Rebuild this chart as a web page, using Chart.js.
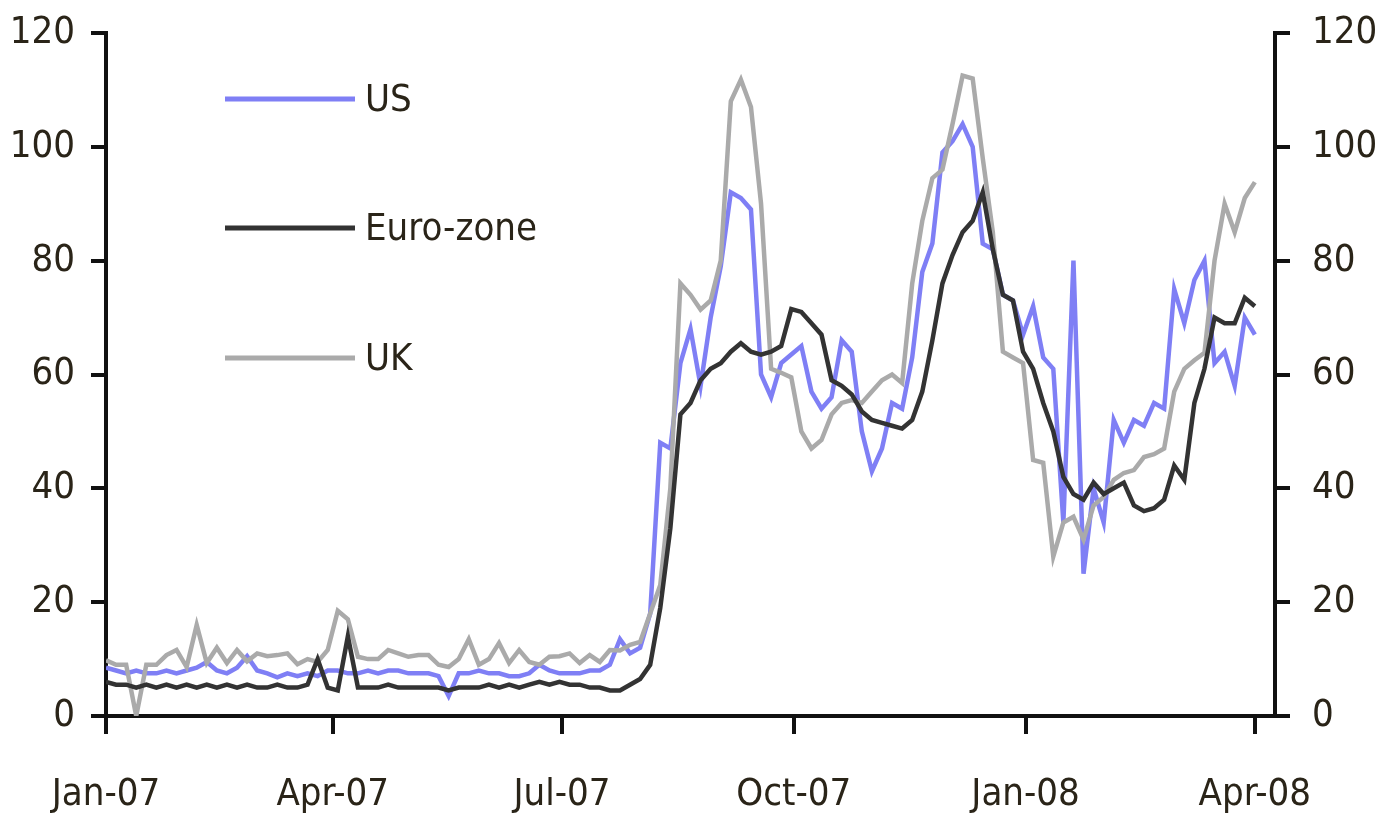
<!DOCTYPE html>
<html>
<head>
<meta charset="utf-8">
<script src="https://cdn.jsdelivr.net/npm/chart.js@4/dist/chart.umd.min.js"></script>
<style>
  html, body { margin: 0; padding: 0; background: #fff; }
  #wrap { width: 1379px; height: 819px; }
</style>
</head>
<body>
<div id="wrap"><canvas id="spreadChart" width="1379" height="819"></canvas></div>
<script>
// days counted from 1 Jan 2007, one reading every 4 days
const dayStep = 4;
const tickDays = [0, 90, 181, 273, 365, 456];
const tickLabels = ["Jan-07", "Apr-07", "Jul-07", "Oct-07", "Jan-08", "Apr-08"];
const yTicks = [0, 20, 40, 60, 80, 100, 120];

const usValues = [
  8.5, 8, 7.5, 8, 7.5, 7.5, 8, 7.5, 8, 8.5,
  9.5, 8, 7.5, 8.5, 10.5, 8, 7.5, 6.8, 7.5, 7,
  7.5, 7, 8, 8, 7.5, 7.5, 8, 7.5, 8, 8,
  7.5, 7.5, 7.5, 7, 3.5, 7.5, 7.5, 8, 7.5, 7.5,
  7, 7, 7.5, 9, 8, 7.5, 7.5, 7.5, 8, 8,
  9, 13.5, 11, 12, 18, 48, 47, 62, 68, 58,
  70, 79, 92, 91, 89, 60, 56, 62, 63.5, 65,
  57, 54, 56, 66, 64, 50, 43, 47, 55, 54,
  63, 78, 83, 99, 101, 104, 100, 83, 82, 74,
  73, 67, 72, 63, 61, 34, 80, 25, 40, 34,
  52, 48, 52, 51, 55, 54, 75, 69, 76.6, 80,
  62, 64, 58, 70, 67
];
const euroValues = [
  6, 5.5, 5.5, 5, 5.5, 5, 5.5, 5, 5.5, 5,
  5.5, 5, 5.5, 5, 5.5, 5, 5, 5.5, 5, 5,
  5.5, 10, 5, 4.5, 14, 5, 5, 5, 5.5, 5,
  5, 5, 5, 5, 4.5, 5, 5, 5, 5.5, 5,
  5.5, 5, 5.5, 6, 5.5, 6, 5.5, 5.5, 5, 5,
  4.5, 4.5, 5.5, 6.5, 9, 19, 33, 53, 55, 59,
  61, 62, 64, 65.5, 64, 63.5, 64, 65, 71.5, 71,
  69, 67, 59, 58, 56.5, 53.5, 52, 51.5, 51, 50.5,
  52, 57, 66, 76, 81, 85, 87, 92, 82, 74,
  73, 64, 61, 55, 50, 42, 39, 38, 41, 39,
  40, 41, 37, 36, 36.5, 38, 44, 41.5, 55, 61,
  70, 69, 69, 73.5, 72
];
const ukValues = [
  9.8, 9, 9, 0, 9, 9, 10.7, 11.6, 8.6, 16,
  9.3, 12, 9.3, 11.6, 9.6, 11, 10.5, 10.7, 11, 9.1,
  10, 9.5, 11.6, 18.5, 17, 10.4, 10, 10, 11.6, 11,
  10.4, 10.7, 10.7, 9, 8.6, 10, 13.5, 9, 10, 12.8,
  9.3, 11.6, 9.5, 9, 10.4, 10.5, 11, 9.3, 10.7, 9.5,
  11.6, 11.5, 12.5, 13, 18, 23, 40, 76, 74, 71.4,
  73, 80, 108, 111.8, 107, 90, 61, 60.3, 59.5, 50,
  47, 48.5, 53, 55, 55.5, 55, 57, 59, 60, 58.5,
  76, 87, 94.5, 96, 104, 112.5, 112, 98, 85, 64,
  63, 62, 45, 44.5, 28, 34, 35, 31, 37, 38.5,
  41.5, 42.7, 43.2, 45.5, 46, 47, 57, 61, 62.5, 63.8,
  80, 90, 85, 91, 93.8
];

const toPoints = (vals) => vals.map((v, i) => ({ x: i * dayStep, y: v }));

const textColor = "#2a2418";
const fontFamily = "'Liberation Sans Narrow', 'DejaVu Sans Condensed', 'Liberation Sans', sans-serif";
const axisFont = { family: fontFamily, size: 38 };

// legend drawn inside the plot, one row per series
const insideLegend = {
  id: "insideLegend",
  afterDraw(chart) {
    const ctx = chart.ctx;
    const rows = [99, 228, 358];
    ctx.save();
    ctx.font = "38px " + fontFamily;
    ctx.textBaseline = "middle";
    ctx.textAlign = "left";
    chart.data.datasets.forEach((ds, i) => {
      const y = rows[i];
      ctx.strokeStyle = ds.borderColor;
      ctx.lineWidth = 5;
      ctx.beginPath();
      ctx.moveTo(225, y);
      ctx.lineTo(355, y);
      ctx.stroke();
      ctx.fillStyle = textColor;
      ctx.fillText(ds.label, 365, y + 2);
    });
    ctx.restore();
  },
};

function yAxis(position, width) {
  return {
    type: "linear",
    position: position,
    min: 0,
    max: 120,
    afterBuildTicks: (s) => { s.ticks = yTicks.map((v) => ({ value: v })); },
    afterFit: (s) => {
      s.width = width;
      s.paddingTop = 0;
      s.paddingBottom = 0;
    },
    border: { display: true, color: "#111", width: 4 },
    grid: { drawOnChartArea: false, drawTicks: true, tickLength: 15, color: "#111", lineWidth: 4 },
    ticks: { color: textColor, font: axisFont, padding: position === "left" ? 16 : 22 },
  };
}

const ctx = document.getElementById("spreadChart").getContext("2d");
new Chart(ctx, {
  type: "line",
  data: {
    datasets: [
      { label: "US", data: toPoints(usValues), borderColor: "#7f7ff5", borderWidth: 4.5, order: 2 },
      { label: "Euro-zone", data: toPoints(euroValues), borderColor: "#333333", borderWidth: 4.5, order: 0 },
      { label: "UK", data: toPoints(ukValues), borderColor: "#aaaaaa", borderWidth: 4.5, order: 1 },
    ],
  },
  options: {
    responsive: false,
    animation: false,
    layout: { padding: { top: 33, left: 0, right: 0, bottom: 0 } },
    elements: { point: { radius: 0 }, line: { tension: 0 } },
    plugins: { legend: { display: false }, tooltip: { enabled: false } },
    scales: {
      x: {
        type: "linear",
        min: 0,
        max: 464,
        afterBuildTicks: (s) => { s.ticks = tickDays.map((v) => ({ value: v })); },
        afterFit: (s) => {
          s.height = 103;
          s.paddingLeft = 0;
          s.paddingRight = 0;
        },
        border: { display: true, color: "#111", width: 4 },
        grid: { drawOnChartArea: false, drawTicks: true, tickLength: 18, color: "#111", lineWidth: 4 },
        ticks: {
          color: textColor,
          font: axisFont,
          padding: 38,
          maxRotation: 0,
          callback: (v) => tickLabels[tickDays.indexOf(v)],
        },
      },
      y: yAxis("left", 106),
      y1: yAxis("right", 104),
    },
  },
  plugins: [insideLegend],
});
</script>
</body>
</html>
